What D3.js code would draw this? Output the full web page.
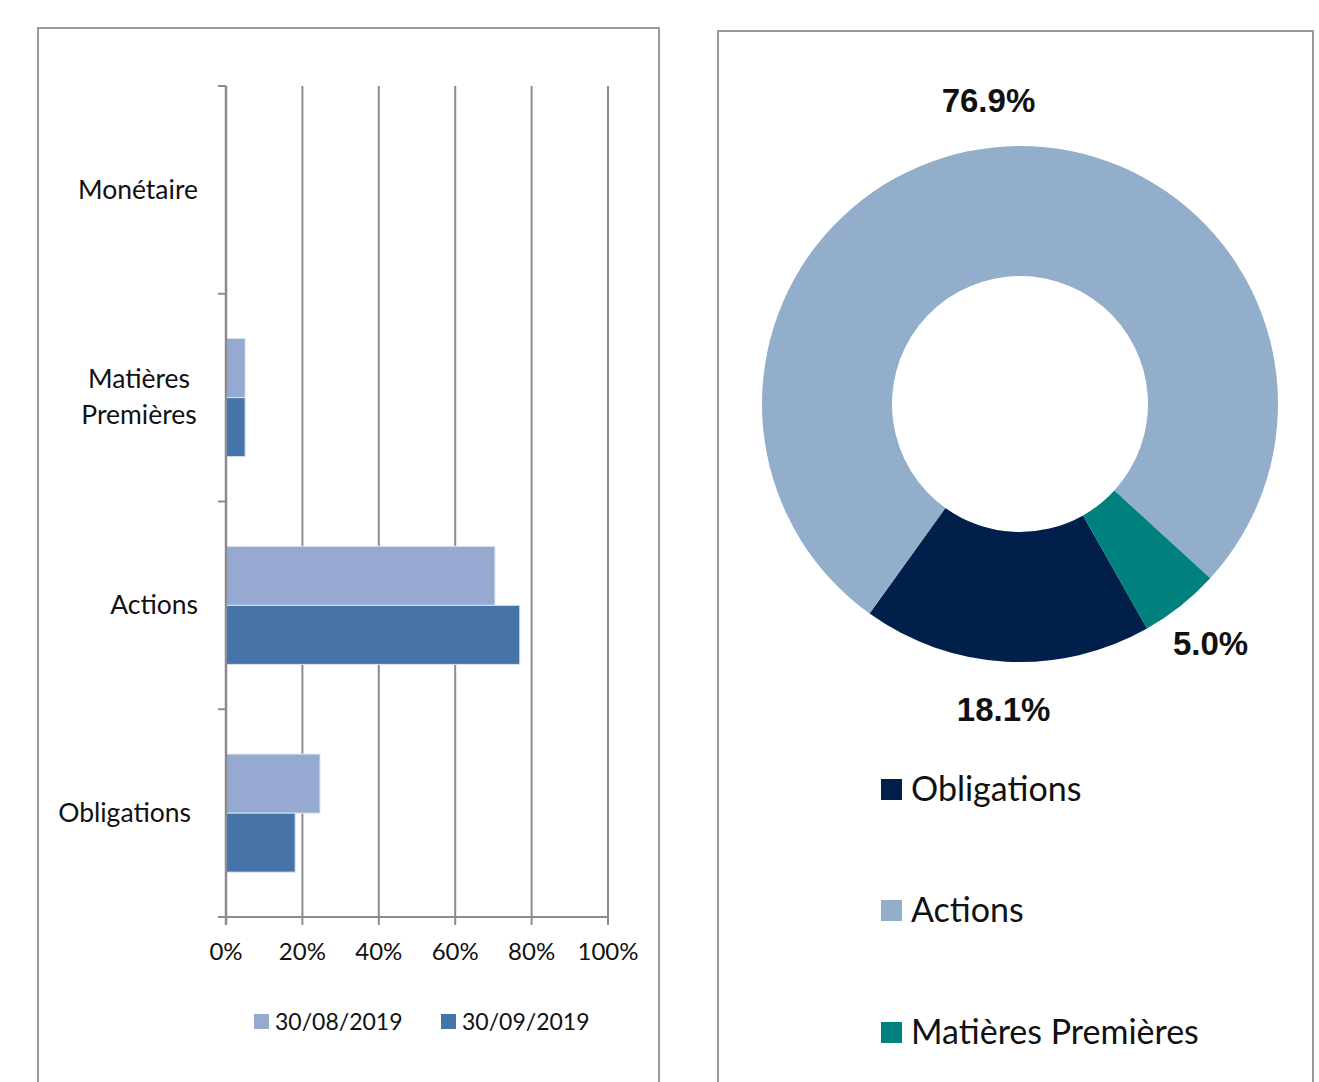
<!DOCTYPE html>
<html>
<head>
<meta charset="utf-8">
<script src="https://cdn.jsdelivr.net/npm/d3@7"></script>
<style>
  body { margin: 0; background: #fff; }
  svg { display: block; }
</style>
</head>
<body>
<svg id="chart" width="1319" height="1082"></svg>
<script>
// bar chart data (% of portfolio)
var categories = ["Monétaire", "Matières Premières", "Actions", "Obligations"];
var series = ["30/08/2019", "30/09/2019"];
var aug = [0, 5.0, 70.4, 24.6];
var sep = [0, 5.0, 76.9, 18.1];
var xTicks = [0, 20, 40, 60, 80, 100];

// donut data
var slices = ["Obligations", "Actions", "Matières Premières"];
var shares = [18.1, 76.9, 5.0];

var barColors = ["#95A9D1", "#4673A8"];
var donutColors = ["#001F4B", "#92AECB", "#00807F"];

var svg = d3.select("#chart");
var labelFont = "Lato, 'Open Sans', sans-serif";

// panel frames
svg.append("rect").attr("x", 38).attr("y", 28).attr("width", 621).attr("height", 1100)
  .attr("fill", "none").attr("stroke", "#9a9a9a").attr("stroke-width", 2);
svg.append("rect").attr("x", 718).attr("y", 31).attr("width", 595).attr("height", 1100)
  .attr("fill", "none").attr("stroke", "#9a9a9a").attr("stroke-width", 2);

// ---------- bar chart ----------
var x = d3.scaleLinear().domain([0, 100]).range([226, 608]);
var y = d3.scaleBand().domain(categories).range([86, 917]);
var y1 = d3.scaleBand().domain(series).range([0, y.bandwidth()]).paddingOuter(0.76);

var bars = svg.append("g");

// vertical gridlines
bars.selectAll("line.grid")
  .data(xTicks.slice(1))
  .enter().append("line")
  .attr("x1", function(d) { return x(d); })
  .attr("x2", function(d) { return x(d); })
  .attr("y1", 86).attr("y2", 925)
  .attr("stroke", "#8c8c8c").attr("stroke-width", 2);

var rows = [];
categories.forEach(function(c, i) {
  rows.push({cat: c, s: series[0], v: aug[i], k: 0});
  rows.push({cat: c, s: series[1], v: sep[i], k: 1});
});

bars.selectAll("rect.bar")
  .data(rows.filter(function(d) { return d.v > 0; }))
  .enter().append("rect")
  .attr("x", x(0))
  .attr("y", function(d) { return y(d.cat) + y1(d.s); })
  .attr("width", function(d) { return x(d.v) - x(0); })
  .attr("height", y1.bandwidth())
  .attr("fill", function(d) { return barColors[d.k]; })
  .attr("stroke", "#dbe3f0").attr("stroke-width", 1);

// y axis line + ticks
bars.append("line").attr("x1", x(0)).attr("x2", x(0)).attr("y1", 86).attr("y2", 925)
  .attr("stroke", "#8c8c8c").attr("stroke-width", 2.5);
var yTickPos = categories.map(function(c) { return y(c); }).concat([917]);
bars.selectAll("line.ytick")
  .data(yTickPos)
  .enter().append("line")
  .attr("x1", 218).attr("x2", x(0))
  .attr("y1", function(d) { return d; }).attr("y2", function(d) { return d; })
  .attr("stroke", "#8c8c8c").attr("stroke-width", 2);

// x axis
bars.append("line").attr("x1", 218).attr("x2", x(100)).attr("y1", 917).attr("y2", 917)
  .attr("stroke", "#8c8c8c").attr("stroke-width", 2);
bars.selectAll("text.xt")
  .data(xTicks)
  .enter().append("text")
  .attr("x", function(d) { return x(d); })
  .attr("y", 960)
  .attr("text-anchor", "middle")
  .attr("font-family", labelFont).attr("font-size", 24).attr("fill", "#111")
  .text(function(d) { return d + "%"; });

// category labels
categories.forEach(function(c) {
  var cy = y(c) + y.bandwidth() / 2;
  if (c === "Matières Premières") {
    var t = bars.append("text").attr("text-anchor", "middle")
      .attr("font-family", labelFont).attr("font-size", 26.5).attr("fill", "#111");
    t.append("tspan").attr("x", 139).attr("y", cy - 10).text("Matières");
    t.append("tspan").attr("x", 139).attr("y", cy + 26).text("Premières");
  } else {
    bars.append("text")
      .attr("x", c === "Obligations" ? 191 : 198)
      .attr("y", cy + 9)
      .attr("text-anchor", "end")
      .attr("font-family", labelFont).attr("font-size", 26.5).attr("fill", "#111")
      .text(c);
  }
});

// bar legend
var legX = [254, 441];
series.forEach(function(s, i) {
  svg.append("rect").attr("x", legX[i]).attr("y", 1014).attr("width", 15).attr("height", 15)
    .attr("fill", barColors[i]);
  svg.append("text").attr("x", legX[i] + 21).attr("y", 1030)
    .attr("font-family", labelFont).attr("font-size", 23).attr("fill", "#111")
    .text(s);
});

// ---------- donut ----------
var cx = 1020, cy = 404, rOuter = 258, rInner = 128;
var start = 150.5 * Math.PI / 180;
var pie = d3.pie().sort(null).value(function(d) { return d; })
  .startAngle(start).endAngle(start + 2 * Math.PI);
var arcs = pie(shares);
var arc = d3.arc().innerRadius(rInner).outerRadius(rOuter);

var donut = svg.append("g").attr("transform", "translate(" + cx + "," + cy + ")");
donut.selectAll("path")
  .data(arcs)
  .enter().append("path")
  .attr("d", arc)
  .attr("fill", function(d, i) { return donutColors[i]; });

// value labels outside the ring, around each slice's mid angle
var labelArc = d3.arc().innerRadius(rOuter + 48).outerRadius(rOuter + 48);
donut.selectAll("text")
  .data(arcs)
  .enter().append("text")
  .attr("x", function(d) { return labelArc.centroid(d)[0]; })
  .attr("y", function(d) { return labelArc.centroid(d)[1]; })
  .attr("dy", "0.36em")
  .attr("text-anchor", "middle")
  .attr("font-family", "'Liberation Sans', Arial, sans-serif")
  .attr("font-weight", "bold").attr("font-size", 33).attr("fill", "#111")
  .text(function(d, i) { return shares[i].toFixed(1) + "%"; });

// donut legend
var legY = [779, 900, 1022];
slices.forEach(function(s, i) {
  svg.append("rect").attr("x", 881).attr("y", legY[i]).attr("width", 21).attr("height", 21)
    .attr("fill", donutColors[i]);
  svg.append("text").attr("x", 911).attr("y", legY[i] + 22)
    .attr("font-family", labelFont).attr("font-size", 34).attr("fill", "#111")
    .text(s);
});
</script>
</body>
</html>
